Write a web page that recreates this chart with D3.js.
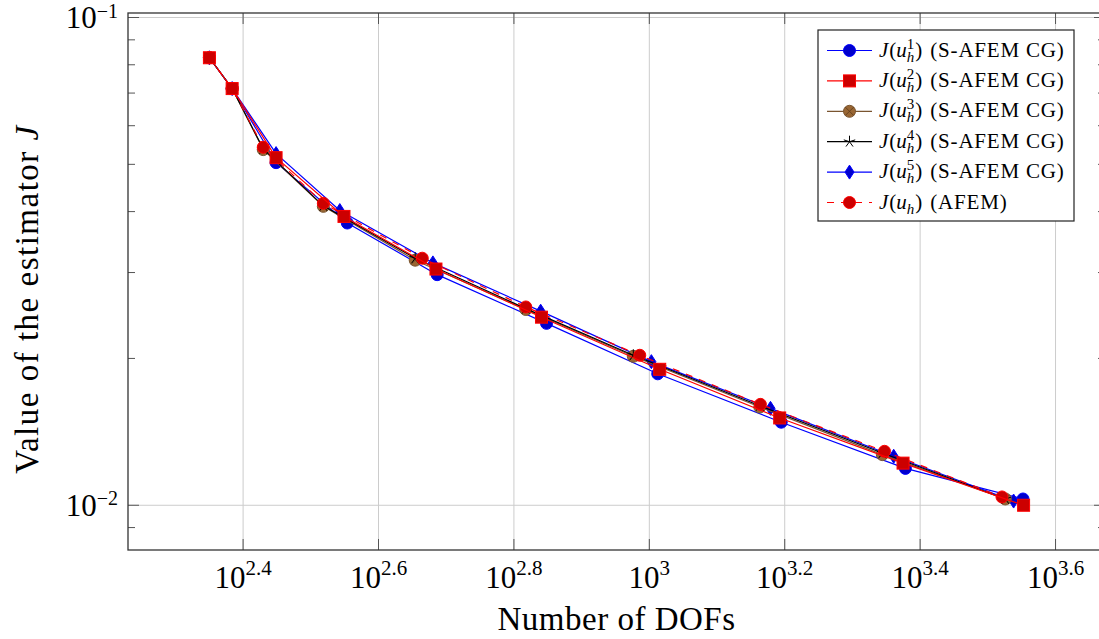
<!DOCTYPE html>
<html>
<head>
<meta charset="utf-8">
<script src="https://cdn.jsdelivr.net/npm/d3@7"></script>
<style>
body { margin: 0; background: #fff; }
svg { display: block; font-family: "Liberation Serif", "DejaVu Serif", serif; }
</style>
</head>
<body>
<div id="chart"></div>
<script>
// number of DOFs and estimator values per run
var dofs1 = [224, 242, 281, 358, 486, 705, 1029, 1566, 2389, 3564];
var est1 = [0.0827, 0.0715, 0.0504, 0.0379, 0.0297, 0.0236, 0.0186, 0.0148, 0.0119, 0.0103];

var dofs2 = [224, 242, 281, 354, 484, 693, 1036, 1558, 2370, 3571];
var est2 = [0.0827, 0.0715, 0.0516, 0.0391, 0.0305, 0.0243, 0.0190, 0.0151, 0.0122, 0.0100];

var dofs3 = [224, 242, 269, 330, 451, 657, 947, 1456, 2209, 3356];
var est3 = [0.0827, 0.0715, 0.0536, 0.0410, 0.0318, 0.0252, 0.0202, 0.0159, 0.0127, 0.0103];

var dofs4 = [224, 242, 269, 330, 451, 657, 947, 1456, 2209, 3356];
var est4 = [0.0827, 0.0715, 0.0538, 0.0411, 0.0321, 0.0253, 0.0203, 0.0160, 0.0128, 0.0103];

var dofs5 = [224, 242, 281, 349, 479, 691, 1007, 1510, 2296, 3452];
var est5 = [0.0827, 0.0715, 0.0526, 0.0402, 0.0314, 0.0250, 0.0197, 0.0158, 0.0126, 0.0102];

var dofsAfem = [224, 242, 269, 330, 462, 657, 968, 1459, 2225, 3318];
var estAfem = [0.0827, 0.0715, 0.0542, 0.0416, 0.0321, 0.0255, 0.0203, 0.0161, 0.0129, 0.0104];

var xTickExps = ["2.4", "2.6", "2.8", "3", "3.2", "3.4", "3.6"];
var yTickExps = ["-1", "-2"];
var yMinorTicks = [0.009, 0.02, 0.03, 0.04, 0.05, 0.06, 0.07, 0.08, 0.09];

var legendSups = ["1", "2", "3", "4", "5", null];
var legendSuffix = ["(S-AFEM CG)", "(S-AFEM CG)", "(S-AFEM CG)", "(S-AFEM CG)", "(S-AFEM CG)", "(AFEM)"];

var series = [
    {x: dofs1, y: est1, stroke: "#0000ff", fill: "#0000cc", mark: "circle"},
    {x: dofs2, y: est2, stroke: "#ff0000", fill: "#cc0000", mark: "square"},
    {x: dofs3, y: est3, stroke: "#7a5530", fill: "#996633", mark: "otimes"},
    {x: dofs4, y: est4, stroke: "#000000", fill: "none", mark: "star"},
    {x: dofs5, y: est5, stroke: "#0000ff", fill: "#0000cc", mark: "diamond"},
    {x: dofsAfem, y: estAfem, stroke: "#ff0000", fill: "#cc0000", mark: "circle", dash: "7,7"}
];
// squares end up on top in the picture
var drawOrder = [0, 4, 2, 3, 5, 1];

var width = 1099, height = 639;
var plotLeft = 128, plotRight = 1105, plotTop = 13, plotBottom = 550;

// pgfplots-style: enlarge limits by 10% of the (log) data range
function enlarged(vals) {
    var lo = Math.log10(d3.min(vals)), hi = Math.log10(d3.max(vals));
    var pad = 0.1 * (hi - lo);
    return [Math.pow(10, lo - pad), Math.pow(10, hi + pad)];
}

var allX = [].concat(dofs1, dofs2, dofs3, dofs4, dofs5, dofsAfem);
var allY = [].concat(est1, est2, est3, est4, est5, estAfem);

var x = d3.scaleLog().domain(enlarged(allX)).range([plotLeft, plotRight]);
var y = d3.scaleLog().domain(enlarged(allY)).range([plotBottom, plotTop]);

var svg = d3.select("#chart").append("svg")
    .attr("width", width)
    .attr("height", height);

// grid
var grid = svg.append("g").attr("stroke", "#cccccc").attr("stroke-width", 1);
xTickExps.forEach(function(e) {
    var xx = x(Math.pow(10, +e));
    grid.append("line").attr("x1", xx).attr("x2", xx).attr("y1", plotTop).attr("y2", plotBottom);
});
yTickExps.forEach(function(e) {
    var yy = y(Math.pow(10, +e));
    grid.append("line").attr("x1", plotLeft).attr("x2", plotRight).attr("y1", yy).attr("y2", yy);
});

// ticks on all four sides, pointing inward
var ticks = svg.append("g").attr("stroke", "#555").attr("stroke-width", 1);
xTickExps.forEach(function(e) {
    var xx = x(Math.pow(10, +e));
    ticks.append("line").attr("x1", xx).attr("x2", xx).attr("y1", plotBottom).attr("y2", plotBottom - 11);
    ticks.append("line").attr("x1", xx).attr("x2", xx).attr("y1", plotTop).attr("y2", plotTop + 11);
});
yTickExps.forEach(function(e) {
    var yy = y(Math.pow(10, +e));
    ticks.append("line").attr("x1", plotLeft).attr("x2", plotLeft + 11).attr("y1", yy).attr("y2", yy);
    ticks.append("line").attr("x1", plotRight).attr("x2", plotRight - 11).attr("y1", yy).attr("y2", yy);
});
yMinorTicks.forEach(function(v) {
    var yy = y(v);
    ticks.append("line").attr("x1", plotLeft).attr("x2", plotLeft + 7).attr("y1", yy).attr("y2", yy);
    ticks.append("line").attr("x1", plotRight).attr("x2", plotRight - 7).attr("y1", yy).attr("y2", yy);
});

/* draws one marker of the given type centred at (cx, cy) */
function drawMark(g, s, cx, cy) {
    if (s.mark == "circle") {
        g.append("circle").attr("cx", cx).attr("cy", cy).attr("r", 6)
            .attr("fill", s.fill).attr("stroke", s.stroke).attr("stroke-width", 1);
    } else if (s.mark == "square") {
        g.append("rect").attr("x", cx - 6).attr("y", cy - 6).attr("width", 12).attr("height", 12)
            .attr("fill", s.fill).attr("stroke", s.stroke).attr("stroke-width", 1);
    } else if (s.mark == "diamond") {
        g.append("path")
            .attr("d", "M" + cx + "," + (cy - 7) + "L" + (cx + 4.5) + "," + cy + "L" + cx + "," + (cy + 7) + "L" + (cx - 4.5) + "," + cy + "Z")
            .attr("fill", s.fill).attr("stroke", s.stroke).attr("stroke-width", 1);
    } else if (s.mark == "otimes") {
        g.append("circle").attr("cx", cx).attr("cy", cy).attr("r", 6)
            .attr("fill", s.fill).attr("stroke", s.stroke).attr("stroke-width", 1);
        var k = 4.2;
        g.append("path")
            .attr("d", "M" + (cx - k) + "," + (cy - k) + "L" + (cx + k) + "," + (cy + k) + "M" + (cx + k) + "," + (cy - k) + "L" + (cx - k) + "," + (cy + k))
            .attr("stroke", "#5a3a1a").attr("stroke-width", 0.8);
    } else if (s.mark == "star") {
        var d = "";
        for (var i = 0; i < 5; i++) {
            var a = -Math.PI / 2 + i * 2 * Math.PI / 5;
            d += "M" + cx + "," + cy + "L" + (cx + 6 * Math.cos(a)) + "," + (cy + 6 * Math.sin(a));
        }
        g.append("path").attr("d", d).attr("stroke", s.stroke).attr("stroke-width", 1).attr("fill", "none");
    }
}

var line = d3.line()
    .x(function(d) { return x(d[0]); })
    .y(function(d) { return y(d[1]); });

var plots = svg.append("g");
drawOrder.forEach(function(idx) {
    var s = series[idx];
    var pts = s.x.map(function(v, i) { return [v, s.y[i]]; });
    var g = plots.append("g");
    g.append("path")
        .datum(pts)
        .attr("d", line)
        .attr("fill", "none")
        .attr("stroke", s.stroke)
        .attr("stroke-width", 1.2)
        .attr("stroke-dasharray", s.dash || null);
    pts.forEach(function(p) { drawMark(g, s, x(p[0]), y(p[1])); });
});

// frame
svg.append("rect")
    .attr("x", plotLeft).attr("y", plotTop)
    .attr("width", plotRight - plotLeft).attr("height", plotBottom - plotTop)
    .attr("fill", "none").attr("stroke", "#333").attr("stroke-width", 1.3);

// tick labels
xTickExps.forEach(function(e) {
    var t = svg.append("text")
        .attr("x", x(Math.pow(10, +e)))
        .attr("y", 588)
        .attr("text-anchor", "middle")
        .attr("font-size", 31);
    t.append("tspan").text("10");
    t.append("tspan").attr("font-size", 21).attr("dy", -13).text(e);
});
yTickExps.forEach(function(e) {
    var t = svg.append("text")
        .attr("x", 118)
        .attr("y", y(Math.pow(10, +e)) + 10.5)
        .attr("text-anchor", "end")
        .attr("font-size", 31);
    t.append("tspan").text("10");
    t.append("tspan").attr("font-size", 20).attr("dy", -10.5).text(e.replace("-", "\u2212"));
});

// axis titles
svg.append("text")
    .attr("x", (plotLeft + plotRight) / 2)
    .attr("y", 630)
    .attr("text-anchor", "middle")
    .attr("font-size", 33)
    .attr("letter-spacing", 0.5)
    .text("Number of DOFs");

var yt = svg.append("text")
    .attr("transform", "translate(38,299) rotate(-90)")
    .attr("text-anchor", "middle")
    .attr("font-size", 33)
    .attr("letter-spacing", 1.5);
yt.append("tspan").text("Value of the estimator ");
yt.append("tspan").attr("font-style", "italic").text("J");

// legend
var lx = 818, ly = 30, rowH = 30.4, fs = 21;
var legend = svg.append("g");
legend.append("rect")
    .attr("x", lx).attr("y", ly).attr("width", 256).attr("height", 191)
    .attr("fill", "#fff").attr("stroke", "#222").attr("stroke-width", 1.2);

series.forEach(function(s, i) {
    var cy = ly + 20.5 + i * rowH;
    legend.append("line")
        .attr("x1", lx + 9).attr("x2", lx + 54)
        .attr("y1", cy).attr("y2", cy)
        .attr("stroke", s.stroke).attr("stroke-width", 1.2)
        .attr("stroke-dasharray", s.dash || null);
    drawMark(legend, s, lx + 31.5, cy);

    var t = legend.append("text")
        .attr("x", lx + 61)
        .attr("y", cy + 6)
        .attr("font-size", fs);
    t.append("tspan").attr("font-style", "italic").text("J");
    t.append("tspan").attr("dx", 1).text("(");
    t.append("tspan").attr("font-style", "italic").text("u");
    t.append("tspan").attr("font-style", "italic").attr("font-size", 15).attr("dy", 5).text("h");
    if (legendSups[i]) {
        t.append("tspan").attr("font-size", 15).attr("dx", -7.5).attr("dy", -13).text(legendSups[i]);
        t.append("tspan").attr("dx", 1).attr("dy", 8).text(")");
    } else {
        t.append("tspan").attr("dx", 1).attr("dy", -5).text(")");
    }
    t.append("tspan").attr("dx", 8).attr("letter-spacing", 0.8).text(legendSuffix[i]);
});
</script>
</body>
</html>
